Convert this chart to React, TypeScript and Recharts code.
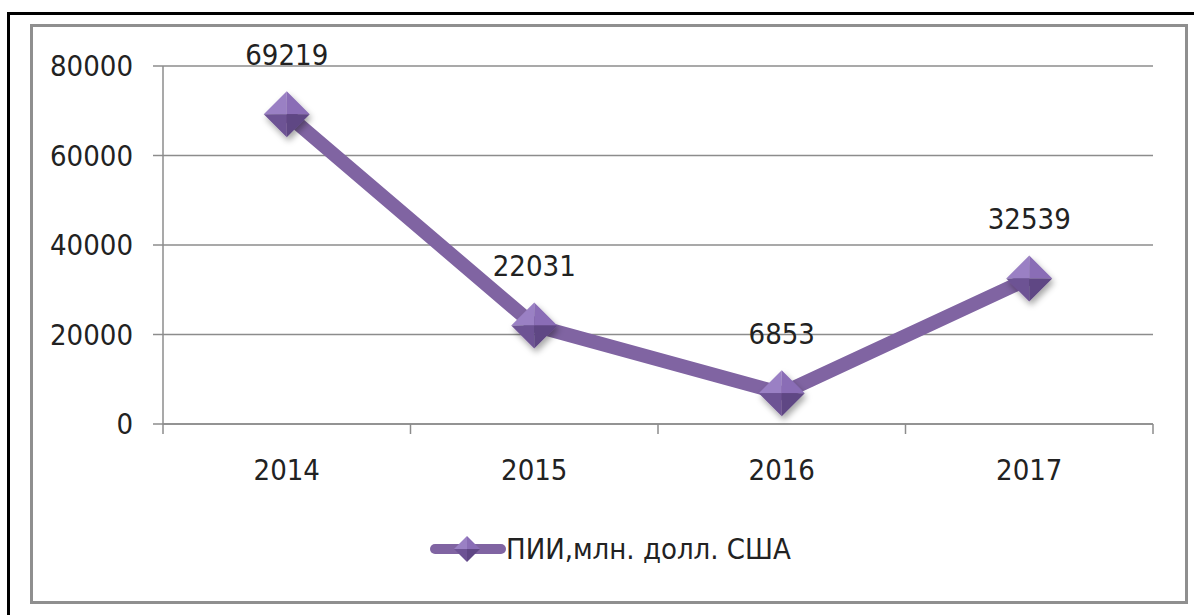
import React from "react";
import { LineChart, Line, XAxis, YAxis, CartesianGrid, Legend, LabelList } from "recharts";

const YEARS = ["2014", "2015", "2016", "2017"];
const FDI = [69219, 22031, 6853, 32539];
const SERIES_NAME = "ПИИ,млн. долл. США";
const Y_TICKS = [0, 20000, 40000, 60000, 80000];

const PURPLE = "#8064A2";
const GRID = "#8c8c8c";
const FONT = "'Liberation Sans Narrow', 'DejaVu Sans Condensed', 'Liberation Sans', sans-serif";
const TEXT = "#222";

const data = YEARS.map((year, i) => ({ pos: i + 0.5, year, value: FDI[i] }));

function Diamond({ cx, cy, r }: { cx: number; cy: number; r: number }) {
  return (
    <g>
      <polygon points={`${cx},${cy - r} ${cx - r},${cy} ${cx},${cy}`} fill="#9a80c4" />
      <polygon points={`${cx},${cy - r} ${cx + r},${cy} ${cx},${cy}`} fill="#8a6db6" />
      <polygon points={`${cx - r},${cy} ${cx},${cy + r} ${cx},${cy}`} fill="#6d5294" />
      <polygon points={`${cx + r},${cy} ${cx},${cy + r} ${cx},${cy}`} fill="#5f4684" />
    </g>
  );
}

const renderDot = (props: any) => {
  const { cx, cy, index } = props;
  return (
    <g key={`dot-${index}`} filter="url(#dotShadow)">
      <Diamond cx={cx} cy={cy} r={23} />
    </g>
  );
};

const renderLegend = (props: any) => {
  const entry = props.payload?.[0];
  return (
    <div style={{ display: "flex", alignItems: "center", fontFamily: FONT, fontSize: 29, color: TEXT }}>
      <svg width={76} height={30}>
        <line x1={5} y1={15} x2={71} y2={15} stroke={PURPLE} strokeWidth={10} strokeLinecap="round" />
        <Diamond cx={37} cy={15} r={13} />
      </svg>
      <span>{entry ? entry.value : SERIES_NAME}</span>
    </div>
  );
};

export default function App() {
  return (
    <div style={{ position: "fixed", left: 0, top: 0, width: 1198, height: 615, background: "#fff" }}>
      <div style={{ position: "absolute", left: 7, top: 12, width: 1187, height: 3, background: "#000" }} />
      <div style={{ position: "absolute", left: 7, top: 12, width: 3, height: 603, background: "#000" }} />
      <div
        style={{
          position: "absolute",
          left: 30,
          top: 24,
          width: 1152,
          height: 574,
          border: "3px solid #8f8f8f",
        }}
      />
      <div style={{ position: "absolute", left: 0, top: 0 }}>
        <LineChart width={1198} height={615} data={data} margin={{ top: 66, right: 45, left: 0, bottom: 101 }}>
          <defs>
            <filter id="dotShadow" x="-50%" y="-50%" width="200%" height="200%">
              <feDropShadow dx="2" dy="4" stdDeviation="3" floodColor="#000" floodOpacity="0.35" />
            </filter>
          </defs>
          <CartesianGrid vertical={false} stroke={GRID} strokeWidth={1.5} />
          <YAxis
            domain={[0, 80000]}
            ticks={Y_TICKS}
            width={163}
            tickSize={10}
            tickMargin={20}
            stroke={GRID}
            strokeWidth={1.5}
            tick={{ fontFamily: FONT, fontSize: 29, fill: TEXT }}
          />
          <XAxis
            xAxisId="bounds"
            type="number"
            dataKey="pos"
            domain={[0, 4]}
            ticks={[0, 1, 2, 3, 4]}
            height={10}
            tickSize={10}
            tickFormatter={() => ""}
            stroke={GRID}
            strokeWidth={1.5}
          />
          <XAxis
            xAxisId="years"
            type="number"
            dataKey="pos"
            domain={[0, 4]}
            ticks={data.map((d) => d.pos)}
            tickFormatter={(v: number) => YEARS[Math.floor(v)]}
            height={40}
            tickSize={0}
            tickMargin={25}
            axisLine={false}
            tickLine={false}
            tick={{ fontFamily: FONT, fontSize: 29, fill: TEXT }}
          />
          <Legend
            verticalAlign="bottom"
            content={renderLegend}
            wrapperStyle={{ position: "absolute", top: 532, left: 430, width: "auto", height: 40 }}
          />
          <Line
            xAxisId="years"
            dataKey="value"
            name={SERIES_NAME}
            stroke={PURPLE}
            strokeWidth={14}
            strokeLinejoin="round"
            dot={renderDot}
            activeDot={false}
            isAnimationActive={false}
          >
            <LabelList
              dataKey="value"
              position="top"
              offset={49}
              style={{ fontFamily: FONT, fontSize: 29, fill: TEXT }}
            />
          </Line>
        </LineChart>
      </div>
    </div>
  );
}
